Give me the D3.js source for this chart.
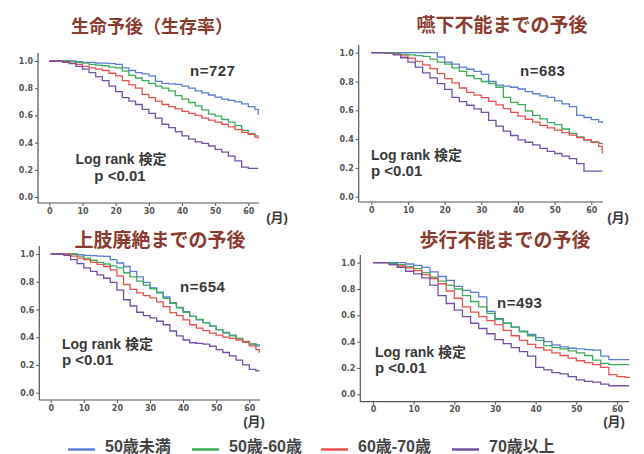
<!DOCTYPE html>
<html>
<head>
<meta charset="utf-8">
<script src="https://cdn.jsdelivr.net/npm/d3@7"></script>
<style>
  body { margin: 0; background: #fff; }
  svg { display: block; }
  text { font-family: "Liberation Sans", "Noto Sans CJK JP", sans-serif; }
</style>
</head>
<body>
<script>
// time grid (months) shared by all curves
const months = [0, 2, 4, 6, 8, 10, 12, 14, 16, 18, 20, 22, 24, 26, 28, 30, 32, 34, 36, 38, 40, 42, 44, 46, 48, 50, 52, 54, 56, 58, 60, 62, 63];

const groups = ["50歳未満", "50歳-60歳", "60歳-70歳", "70歳以上"];
const colors = ["#5b7ed4", "#3cad5b", "#e8524e", "#7451a8"];
const titles = ["生命予後（生存率）", "嚥下不能までの予後", "上肢廃絶までの予後", "歩行不能までの予後"];
const nLabels = ["n=727", "n=683", "n=654", "n=493"];
const xTicks = [0, 10, 20, 30, 40, 50, 60];
const yTicks = [0, 0.2, 0.4, 0.6, 0.8, 1.0];

// 生命予後
const life_u50 = [1, 1, 1, 1, 0.995, 0.99, 0.99, 0.985, 0.985, 0.98, 0.975, 0.95, 0.93, 0.915, 0.905, 0.89, 0.85, 0.835, 0.832, 0.828, 0.815, 0.8, 0.78, 0.765, 0.75, 0.735, 0.72, 0.71, 0.7, 0.685, 0.665, 0.645, 0.605];
const life_50 = [1, 1, 1, 0.995, 0.99, 0.985, 0.975, 0.97, 0.965, 0.955, 0.95, 0.925, 0.895, 0.875, 0.855, 0.835, 0.815, 0.8, 0.78, 0.745, 0.72, 0.695, 0.67, 0.64, 0.61, 0.595, 0.57, 0.55, 0.525, 0.49, 0.465, 0.45, 0.445];
const life_60 = [1, 1, 0.995, 0.985, 0.975, 0.96, 0.95, 0.94, 0.93, 0.91, 0.89, 0.855, 0.825, 0.8, 0.755, 0.73, 0.705, 0.68, 0.665, 0.648, 0.63, 0.615, 0.6, 0.58, 0.565, 0.55, 0.535, 0.515, 0.495, 0.475, 0.46, 0.44, 0.43];
const life_70 = [1, 1, 0.99, 0.98, 0.96, 0.94, 0.915, 0.885, 0.855, 0.815, 0.775, 0.73, 0.705, 0.68, 0.645, 0.615, 0.58, 0.535, 0.51, 0.48, 0.45, 0.425, 0.405, 0.395, 0.375, 0.35, 0.33, 0.3, 0.265, 0.22, 0.21, 0.21, 0.21];

// 嚥下不能
const swal_u50 = [1, 1, 1, 1, 1, 1, 1, 1, 1, 0.97, 0.935, 0.92, 0.9, 0.885, 0.87, 0.85, 0.8, 0.775, 0.768, 0.76, 0.748, 0.73, 0.715, 0.7, 0.69, 0.665, 0.645, 0.625, 0.565, 0.55, 0.535, 0.52, 0.51];
const swal_50 = [1, 1, 1, 0.995, 0.988, 0.985, 0.98, 0.975, 0.955, 0.935, 0.92, 0.895, 0.87, 0.84, 0.82, 0.8, 0.785, 0.76, 0.69, 0.655, 0.64, 0.595, 0.565, 0.54, 0.515, 0.5, 0.47, 0.44, 0.415, 0.395, 0.38, 0.37, 0.365];
const swal_60 = [1, 1, 0.995, 0.99, 0.978, 0.962, 0.94, 0.915, 0.89, 0.855, 0.82, 0.79, 0.755, 0.725, 0.705, 0.688, 0.662, 0.638, 0.612, 0.585, 0.56, 0.538, 0.518, 0.495, 0.478, 0.462, 0.445, 0.428, 0.41, 0.395, 0.378, 0.35, 0.3];
const swal_70 = [1, 1, 0.995, 0.985, 0.965, 0.935, 0.9, 0.86, 0.825, 0.785, 0.745, 0.69, 0.66, 0.635, 0.61, 0.585, 0.53, 0.49, 0.455, 0.425, 0.395, 0.378, 0.36, 0.335, 0.315, 0.3, 0.282, 0.265, 0.23, 0.178, 0.178, 0.178, 0.178];

// 上肢廃絶
const arm_u50 = [1, 1, 1, 1, 0.995, 0.99, 0.988, 0.985, 0.983, 0.96, 0.935, 0.91, 0.875, 0.835, 0.795, 0.755, 0.725, 0.69, 0.65, 0.615, 0.585, 0.55, 0.525, 0.505, 0.48, 0.455, 0.435, 0.415, 0.39, 0.365, 0.35, 0.338, 0.335];
const arm_50 = [1, 1, 1, 1, 0.985, 0.97, 0.955, 0.94, 0.928, 0.915, 0.9, 0.865, 0.835, 0.805, 0.775, 0.748, 0.72, 0.68, 0.645, 0.612, 0.58, 0.55, 0.528, 0.505, 0.48, 0.455, 0.43, 0.41, 0.392, 0.37, 0.352, 0.345, 0.342];
const arm_60 = [1, 1, 1, 0.985, 0.97, 0.96, 0.94, 0.925, 0.91, 0.885, 0.84, 0.78, 0.745, 0.72, 0.7, 0.683, 0.655, 0.62, 0.578, 0.555, 0.525, 0.49, 0.465, 0.448, 0.43, 0.415, 0.4, 0.392, 0.38, 0.365, 0.338, 0.31, 0.288];
const arm_70 = [1, 1, 0.99, 0.96, 0.93, 0.9, 0.875, 0.85, 0.825, 0.795, 0.74, 0.67, 0.625, 0.58, 0.555, 0.54, 0.515, 0.49, 0.445, 0.41, 0.38, 0.36, 0.355, 0.35, 0.335, 0.31, 0.29, 0.265, 0.235, 0.2, 0.168, 0.158, 0.157];

// 歩行不能
const walk_u50 = [1, 1, 1, 1, 0.99, 0.98, 0.965, 0.93, 0.895, 0.865, 0.82, 0.79, 0.775, 0.74, 0.63, 0.575, 0.54, 0.51, 0.48, 0.455, 0.43, 0.4, 0.375, 0.36, 0.35, 0.345, 0.34, 0.335, 0.29, 0.263, 0.263, 0.263, 0.263];
const walk_50 = [1, 1, 0.995, 0.985, 0.97, 0.955, 0.925, 0.89, 0.86, 0.83, 0.8, 0.75, 0.705, 0.665, 0.615, 0.57, 0.54, 0.51, 0.475, 0.445, 0.41, 0.37, 0.355, 0.345, 0.33, 0.315, 0.295, 0.26, 0.235, 0.225, 0.225, 0.225, 0.225];
const walk_60 = [1, 1, 0.985, 0.975, 0.96, 0.94, 0.91, 0.88, 0.84, 0.785, 0.73, 0.665, 0.625, 0.59, 0.56, 0.53, 0.485, 0.445, 0.41, 0.38, 0.355, 0.335, 0.315, 0.295, 0.275, 0.255, 0.24, 0.225, 0.205, 0.15, 0.135, 0.128, 0.124];
const walk_70 = [1, 1, 0.985, 0.965, 0.935, 0.915, 0.885, 0.83, 0.75, 0.69, 0.64, 0.59, 0.54, 0.5, 0.46, 0.415, 0.385, 0.355, 0.325, 0.29, 0.205, 0.185, 0.165, 0.155, 0.135, 0.11, 0.098, 0.093, 0.078, 0.065, 0.065, 0.065, 0.065];

const panelSeries = [
  [life_u50, life_50, life_60, life_70],
  [swal_u50, swal_50, swal_60, swal_70],
  [arm_u50, arm_50, arm_60, arm_70],
  [walk_u50, walk_50, walk_60, walk_70]
];

// panel geometry (pixel layout of each small chart)
const layout = [
  { ax: 38, top: 53, bottom: 203, right: 259, x0: 49.3, x60: 248.3, y0: 197, y1: 61,
    title: [152, 25], n: [190, 70], log: [121, 159, "middle"], p: [120, 175], unit: [277, 217] },
  { ax: 358.7, top: 45, bottom: 202, right: 603, x0: 371.3, x60: 591.3, y0: 196.7, y1: 52.7,
    title: [502, 23], n: [520, 70], log: [371, 155, "start"], p: [371, 170], unit: [618, 217] },
  { ax: 39.3, top: 246, bottom: 400, right: 260, x0: 50.7, x60: 249.3, y0: 392.7, y1: 254,
    title: [160, 238], n: [180, 286], log: [62, 344, "start"], p: [62, 359], unit: [254, 421] },
  { ax: 360.3, top: 255, bottom: 401.7, right: 629, x0: 373, x60: 617, y0: 394.3, y1: 262.7,
    title: [505, 238], n: [497, 302], log: [375, 352, "start"], p: [375, 367], unit: [614, 421] }
];

const w = 644;
const h = 454;
const textColor = "#3a3a3a";
const axisColor = "#555";

const svg = d3.select("body").append("svg").attr("width", w).attr("height", h);

const drawPanel = (i) => {
  const L = layout[i];
  const g = svg.append("g");

  const xScale = d3.scaleLinear().domain([0, 60]).range([L.x0, L.x60]);
  const yScale = d3.scaleLinear().domain([0, 1]).range([L.y0, L.y1]);

  // title
  g.append("text")
    .attr("x", L.title[0])
    .attr("y", L.title[1])
    .attr("text-anchor", "middle")
    .attr("dominant-baseline", "central")
    .style("font-family", "'Noto Sans CJK JP', sans-serif")
    .style("font-weight", "bold")
    .style("font-size", i === 0 ? "18px" : "19px")
    .style("fill", "#8c3b30")
    .text(titles[i]);

  // axes
  const yAxis = d3.axisLeft(yScale).tickValues(yTicks).tickFormat(d3.format(".1f")).tickSize(3).tickPadding(2);
  g.append("g")
    .attr("transform", "translate(" + L.ax + ",0)")
    .call(yAxis);

  const xAxis = d3.axisBottom(xScale).tickValues(xTicks).tickSize(3).tickPadding(2);
  g.append("g")
    .attr("transform", "translate(0," + L.bottom + ")")
    .call(xAxis);

  g.selectAll(".domain").remove();
  g.selectAll(".tick line").attr("stroke", axisColor);
  g.selectAll(".tick text")
    .style("font-family", "'DejaVu Sans', sans-serif")
    .style("font-weight", "bold")
    .style("font-size", "8px")
    .style("fill", "#555");

  g.append("line")
    .attr("x1", L.ax).attr("x2", L.ax)
    .attr("y1", L.top).attr("y2", L.bottom)
    .attr("stroke", axisColor).attr("stroke-width", 1.2);
  g.append("line")
    .attr("x1", L.ax).attr("x2", L.right)
    .attr("y1", L.bottom).attr("y2", L.bottom)
    .attr("stroke", axisColor).attr("stroke-width", 1.2);

  // survival curves
  const line = d3.line()
    .x((d, k) => xScale(months[k]))
    .y((d) => yScale(d))
    .curve(d3.curveStepAfter);

  g.selectAll(".curve")
    .data(panelSeries[i])
    .enter()
    .append("path")
    .attr("class", "curve")
    .attr("d", (d) => line(d))
    .attr("fill", "none")
    .attr("stroke", (d, k) => colors[k])
    .attr("stroke-width", 1.3);

  // annotations
  g.append("text")
    .attr("x", L.n[0]).attr("y", L.n[1])
    .attr("dominant-baseline", "central")
    .style("font-weight", "bold")
    .style("font-size", "15px")
    .style("letter-spacing", "0.5px")
    .style("fill", textColor)
    .text(nLabels[i]);

  g.append("text")
    .attr("x", L.log[0]).attr("y", L.log[1])
    .attr("text-anchor", L.log[2])
    .attr("dominant-baseline", "central")
    .style("font-weight", "bold")
    .style("font-size", "14px")
    .style("fill", textColor)
    .text("Log rank 検定");

  g.append("text")
    .attr("x", L.p[0]).attr("y", L.p[1])
    .attr("text-anchor", L.log[2])
    .attr("dominant-baseline", "central")
    .style("font-weight", "bold")
    .style("font-size", "15px")
    .style("fill", textColor)
    .text("p <0.01");

  g.append("text")
    .attr("x", L.unit[0]).attr("y", L.unit[1])
    .attr("text-anchor", "middle")
    .attr("dominant-baseline", "central")
    .style("font-weight", "bold")
    .style("font-size", "13px")
    .style("fill", textColor)
    .text("(月)");
};

[0, 1, 2, 3].forEach(drawPanel);

// legend
const legendX = [68, 192, 321, 452];
const legend = svg.append("g")
  .selectAll("g")
  .data(groups)
  .enter()
  .append("g")
  .attr("transform", (d, i) => "translate(" + legendX[i] + ",448)");

legend.append("line")
  .attr("x1", 0).attr("x2", 27)
  .attr("y1", 1.5).attr("y2", 1.5)
  .attr("stroke", (d, i) => colors[i])
  .attr("stroke-width", 2.5);

legend.append("text")
  .attr("x", 37)
  .attr("y", -2)
  .attr("dominant-baseline", "central")
  .style("font-weight", "bold")
  .style("font-size", "16px")
  .style("fill", "#444")
  .text((d) => d);
</script>
</body>
</html>
